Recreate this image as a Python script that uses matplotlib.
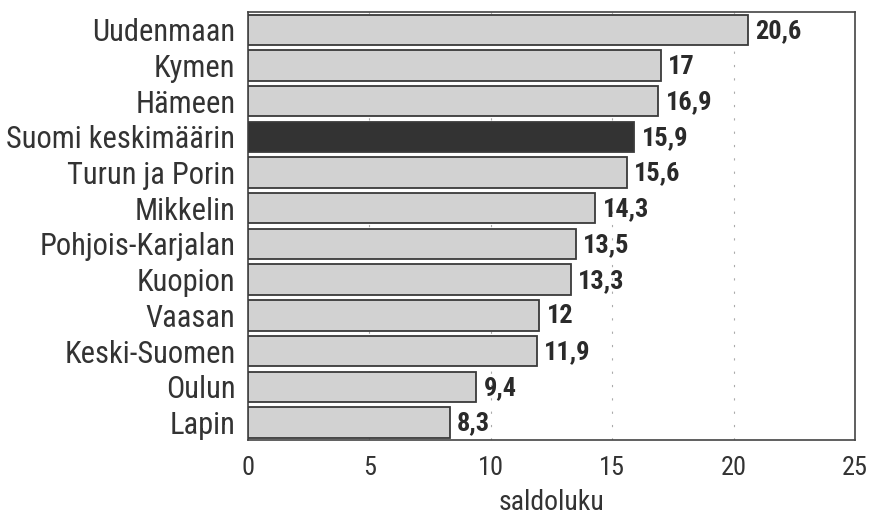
import matplotlib.pyplot as plt

# Data
regions = [
    "Uudenmaan", "Kymen", "Hämeen", "Suomi keskimäärin", "Turun ja Porin",
    "Mikkelin", "Pohjois-Karjalan", "Kuopion", "Vaasan", "Keski-Suomen",
    "Oulun", "Lapin"
]
values = [20.6, 17, 16.9, 15.9, 15.6, 14.3, 13.5, 13.3, 12, 11.9, 9.4, 8.3]
value_labels = ["20,6", "17", "16,9", "15,9", "15,6", "14,3", "13,5", "13,3",
                "12", "11,9", "9,4", "8,3"]
highlight = "Suomi keskimäärin"

plt.rcParams['font.family'] = ['Roboto Condensed', 'DejaVu Sans']

fig = plt.figure(figsize=(8.7, 5.21), dpi=100)
ax = fig.add_axes([0.285, 0.155, 0.698, 0.822])

colors = ['#333333' if r == highlight else '#d2d2d2' for r in regions]
ypos = list(range(len(regions)))
ax.barh(ypos, values, height=0.85, color=colors, edgecolor='#3a3a3a',
        linewidth=1.3, zorder=3)

# value labels
for y, v, lab in zip(ypos, values, value_labels):
    ax.text(v + 0.3, y + 0.03, lab, va='center', ha='left', fontsize=19,
            fontweight='bold', color='#2a2a2a', zorder=4)

ax.set_yticks(ypos)
ax.set_yticklabels(regions, fontsize=22, color='#333333')
ax.set_ylim(len(regions) - 0.5, -0.5)
ax.set_xlim(0, 25)
ax.set_xticks([0, 5, 10, 15, 20, 25])
ax.tick_params(axis='x', labelsize=19, colors='#333333', length=0, pad=11)
ax.tick_params(axis='y', length=0, pad=9)
ax.set_xlabel('saldoluku', fontsize=20, color='#333333', labelpad=7)
ax.grid(axis='x', color='#aaaaaa', linestyle=(0, (2, 10)), linewidth=0.8, zorder=0)

for s in ax.spines.values():
    s.set_color('#444444')
    s.set_linewidth(1.2)

plt.savefig('out.png', dpi=100)
